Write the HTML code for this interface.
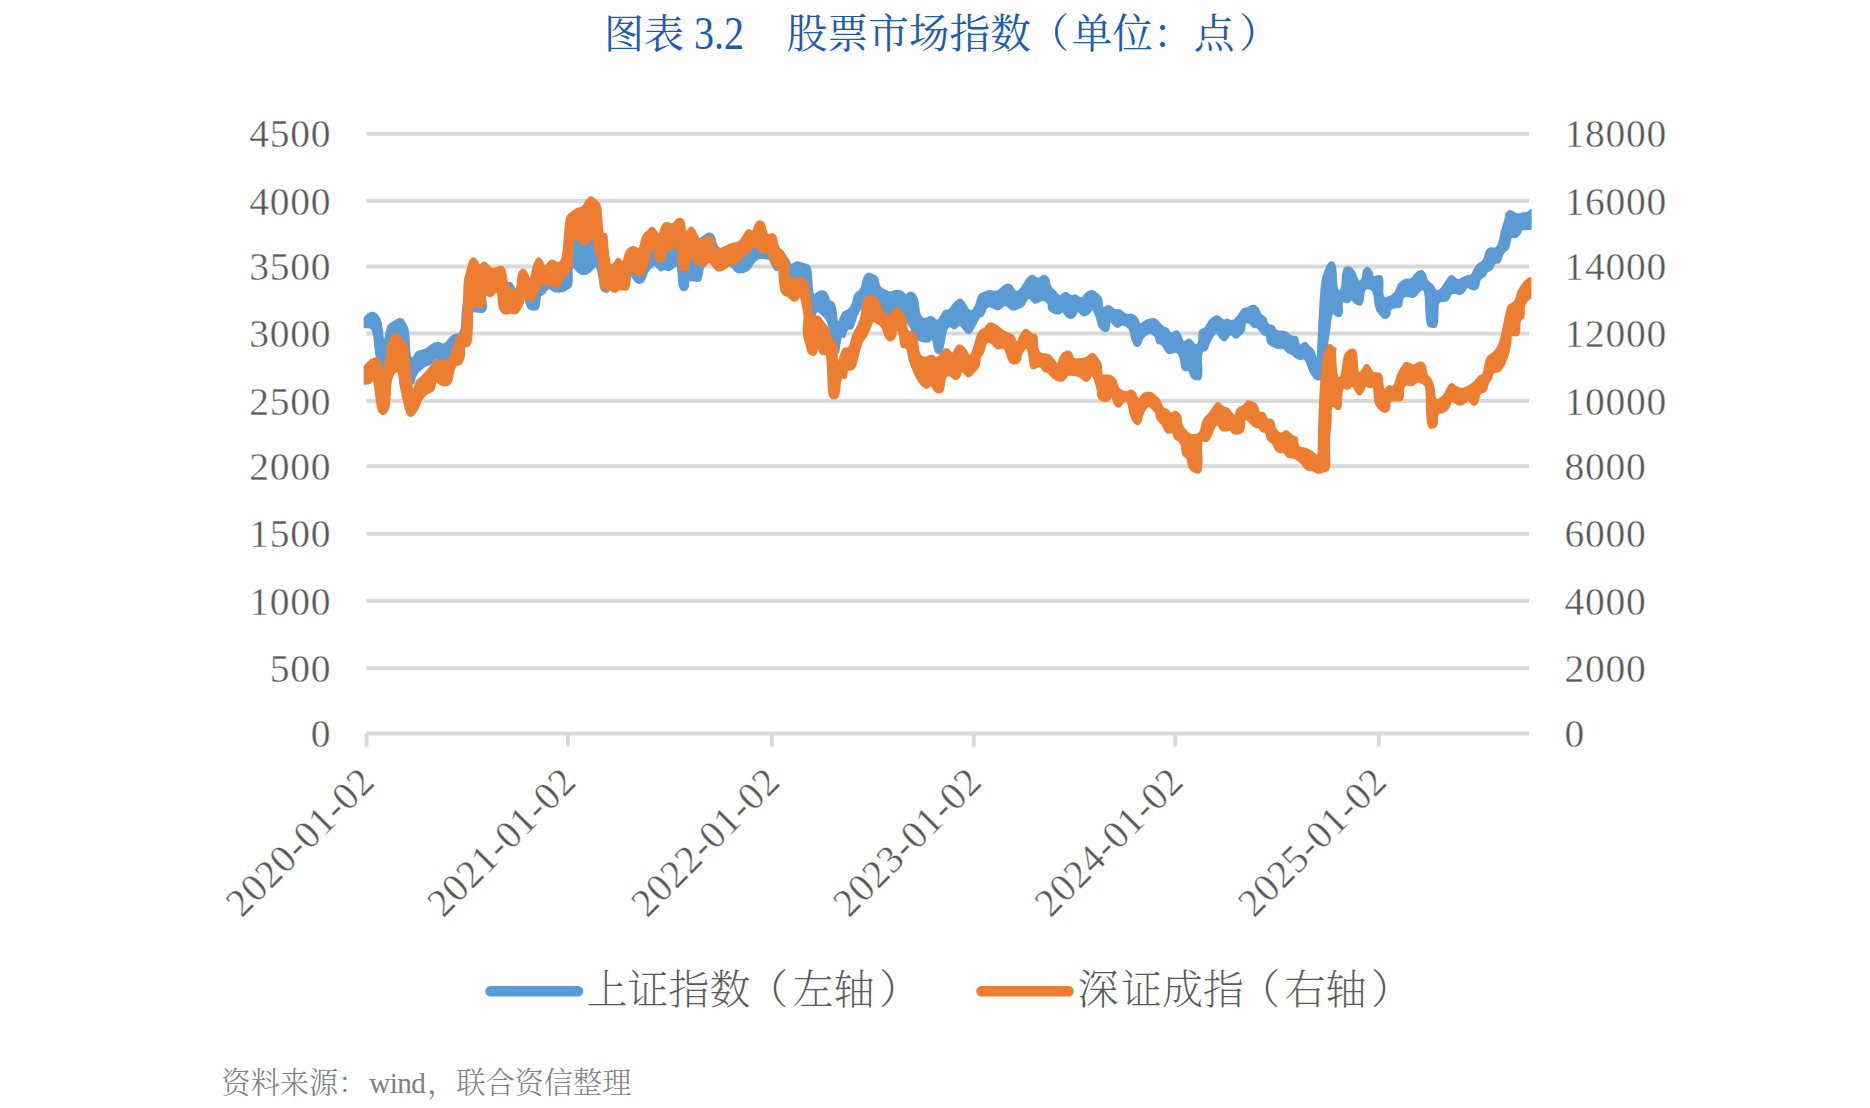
<!DOCTYPE html>
<html lang="zh-CN">
<head>
<meta charset="utf-8">
<title>图表 3.2 股票市场指数</title>
<style>
html,body{margin:0;padding:0;background:#fff;}
body{width:1870px;height:1108px;overflow:hidden;position:relative;font-family:"Liberation Serif","Noto Serif CJK SC",serif;}
.tt{position:absolute;top:7px;line-height:56px;color:#1b5cb3;white-space:pre;}
#t1{left:604px;font-size:40px;}
#t1 b{font-weight:normal;display:inline-block;transform:translateY(1.2px) scaleY(1.15);transform-origin:50% 76%;}
#t2{left:786.8px;font-size:40.7px;}
#t2 i{font-style:normal;display:inline-block;}
#src{position:absolute;left:221.5px;top:1063px;font-size:29.2px;line-height:40px;color:#808080;white-space:nowrap;font-weight:300;}
#src i{font-style:normal;margin-left:1.8px;margin-right:1.7px;letter-spacing:-0.55px;}
svg{position:absolute;left:0;top:0;}
svg text{font-family:"Liberation Serif","Noto Serif CJK SC",serif;}
.ax{font-size:39.5px;fill:#595959;letter-spacing:0.75px;stroke:#fff;stroke-width:0.4px;paint-order:fill stroke;}
.xl{letter-spacing:0.65px;}
.lg{font-size:41px;fill:#595959;font-weight:200;}
</style>
</head>
<body>
<div class="tt" id="t1">图表 <b>3.2</b></div>
<div class="tt" id="t2">股票市场指数<i style="margin-left:-2.5px;margin-right:2.5px">（</i>单位：点<i style="margin-left:4.5px">）</i></div>

<svg width="1870" height="1108" viewBox="0 0 1870 1108">
<g stroke="#d9d9d9" stroke-width="4" fill="none">
<line x1="366.4" y1="133.8" x2="1529" y2="133.8"/>
<line x1="366.4" y1="201.1" x2="1529" y2="201.1"/>
<line x1="366.4" y1="266.4" x2="1529" y2="266.4"/>
<line x1="366.4" y1="333.6" x2="1529" y2="333.6"/>
<line x1="366.4" y1="401.1" x2="1529" y2="401.1"/>
<line x1="366.4" y1="466.3" x2="1529" y2="466.3"/>
<line x1="366.4" y1="533.7" x2="1529" y2="533.7"/>
<line x1="366.4" y1="601.1" x2="1529" y2="601.1"/>
<line x1="366.4" y1="668.3" x2="1529" y2="668.3"/>
<line x1="366.4" y1="733.6" x2="1529" y2="733.6"/>
<line x1="366.5" y1="733.6" x2="366.5" y2="746.5"/>
<line x1="567.9" y1="733.6" x2="567.9" y2="746.5"/>
<line x1="771.9" y1="733.6" x2="771.9" y2="746.5"/>
<line x1="973.8" y1="733.6" x2="973.8" y2="746.5"/>
<line x1="1175.3" y1="733.6" x2="1175.3" y2="746.5"/>
<line x1="1378.8" y1="733.6" x2="1378.8" y2="746.5"/>
</g>
<g class="ax" text-anchor="end">
<text x="331.3" y="147.4">4500</text>
<text x="331.3" y="214.7">4000</text>
<text x="331.3" y="280.0">3500</text>
<text x="331.3" y="347.2">3000</text>
<text x="331.3" y="414.7">2500</text>
<text x="331.3" y="479.9">2000</text>
<text x="331.3" y="547.3">1500</text>
<text x="331.3" y="614.7">1000</text>
<text x="331.3" y="681.9">500</text>
<text x="331.3" y="747.2">0</text>
</g>
<g class="ax" text-anchor="start">
<text x="1564.6" y="147.4">18000</text>
<text x="1564.6" y="214.7">16000</text>
<text x="1564.6" y="280.0">14000</text>
<text x="1564.6" y="347.2">12000</text>
<text x="1564.6" y="414.7">10000</text>
<text x="1564.6" y="479.9">8000</text>
<text x="1564.6" y="547.3">6000</text>
<text x="1564.6" y="614.7">4000</text>
<text x="1564.6" y="681.9">2000</text>
<text x="1564.6" y="747.2">0</text>
</g>
<g class="ax xl" text-anchor="end">
<text transform="translate(376.7,783.6) rotate(-45)" x="0" y="0">2020-01-02</text>
<text transform="translate(578.1,783.6) rotate(-45)" x="0" y="0">2021-01-02</text>
<text transform="translate(782.1,783.6) rotate(-45)" x="0" y="0">2022-01-02</text>
<text transform="translate(984.0,783.6) rotate(-45)" x="0" y="0">2023-01-02</text>
<text transform="translate(1185.5,783.6) rotate(-45)" x="0" y="0">2024-01-02</text>
<text transform="translate(1389.0,783.6) rotate(-45)" x="0" y="0">2025-01-02</text>
</g>
<path fill="#5b9bd5" stroke="#5b9bd5" stroke-width="1.6" stroke-linejoin="round" d="M364.4,317.6 Q371.1,310.3 375.8,313.8 Q380.6,317.3 381.6,326.5 Q382.7,335.7 383.2,340.4 Q383.7,345.1 385.7,335.9 Q387.6,326.6 388.2,325.7 Q388.8,324.8 395.0,320.8 Q401.2,316.8 403.4,320.5 Q405.6,324.1 407.1,327.4 Q408.6,330.6 409.2,345.1 Q409.8,359.6 411.8,358.5 Q413.9,357.3 415.1,354.5 Q416.4,351.7 420.7,350.9 Q425.1,350.2 430.7,345.6 Q436.4,341.0 440.3,343.5 Q444.1,346.1 448.2,340.2 Q452.2,334.3 457.0,334.2 Q461.8,334.1 461.9,324.1 Q461.9,314.1 463.7,301.6 Q465.5,289.1 467.6,279.2 Q469.8,269.3 473.9,270.7 Q478.0,272.2 484.0,273.4 Q490.1,274.6 496.6,275.3 Q503.2,276.0 504.8,280.0 Q506.4,284.0 508.9,282.8 Q511.3,281.6 513.7,287.1 Q516.1,292.6 518.2,284.3 Q520.4,276.1 523.9,280.2 Q527.5,284.3 532.1,277.3 Q536.8,270.4 542.8,270.5 Q548.8,270.6 555.2,272.1 Q561.5,273.5 564.1,260.1 Q566.8,246.7 568.2,241.3 Q569.7,235.8 581.8,234.8 Q593.9,233.7 594.8,236.1 Q595.6,238.5 597.1,258.2 Q598.7,277.9 602.8,274.5 Q606.9,271.0 613.6,272.1 Q620.3,273.3 622.7,269.7 Q625.1,266.1 627.5,263.1 Q629.8,260.2 636.9,258.1 Q643.9,256.1 646.1,247.9 Q648.3,239.7 646.9,243.8 Q645.5,247.9 650.2,248.0 Q654.9,248.1 665.8,243.5 Q676.7,239.0 681.6,242.7 Q686.5,246.4 693.2,242.9 Q700.0,239.4 701.4,237.9 Q702.9,236.5 706.2,234.5 Q709.4,232.6 711.9,234.0 Q714.3,235.5 715.2,240.5 Q716.0,245.5 717.9,247.0 Q719.8,248.4 721.7,250.9 Q723.7,253.4 728.7,253.5 Q733.6,253.6 739.6,250.4 Q745.6,247.1 751.5,243.1 Q757.4,239.0 762.9,243.1 Q768.4,247.2 771.7,250.2 Q775.0,253.3 778.0,254.3 Q781.0,255.4 783.3,255.5 Q785.6,255.7 787.4,258.4 Q789.3,261.1 790.0,263.4 Q790.7,265.6 793.9,263.5 Q797.1,261.3 800.8,262.7 Q804.5,264.0 807.3,265.1 Q810.1,266.1 810.7,270.3 Q811.3,274.4 812.0,285.9 Q812.7,297.4 814.9,294.8 Q817.1,292.3 819.5,291.4 Q821.8,290.5 824.3,291.4 Q826.8,292.3 828.3,297.2 Q829.8,302.0 832.5,302.4 Q835.2,302.9 836.2,314.2 Q837.2,325.6 839.3,321.0 Q841.3,316.3 842.1,314.1 Q842.9,311.8 845.5,311.3 Q848.0,310.7 850.7,306.9 Q853.3,303.0 853.8,298.5 Q854.3,294.0 858.0,291.9 Q861.6,289.8 862.6,283.5 Q863.6,277.2 865.8,275.0 Q868.0,272.7 870.3,273.7 Q872.6,274.6 875.3,275.9 Q877.9,277.3 878.5,282.3 Q879.0,287.2 882.5,289.0 Q886.0,290.7 888.0,291.8 Q890.0,292.9 893.1,291.5 Q896.1,290.0 899.3,290.7 Q902.5,291.3 903.9,293.5 Q905.3,295.7 907.8,293.6 Q910.2,291.4 912.7,292.8 Q915.2,294.1 916.6,297.5 Q918.1,300.8 918.6,307.6 Q919.2,314.4 921.6,317.2 Q924.0,319.9 927.8,317.7 Q931.6,315.6 934.5,318.8 Q937.4,322.1 939.5,318.8 Q941.5,315.6 942.7,313.0 Q943.9,310.3 946.5,310.6 Q949.1,310.8 951.2,307.3 Q953.4,303.9 956.6,301.0 Q959.8,298.2 961.9,300.0 Q964.0,301.9 967.0,307.6 Q970.1,313.4 973.3,309.5 Q976.4,305.6 977.4,300.1 Q978.5,294.6 980.7,293.9 Q983.0,293.1 985.8,291.6 Q988.6,290.1 992.5,291.2 Q996.4,292.3 999.2,290.1 Q1002.0,287.9 1004.4,285.7 Q1006.9,283.4 1009.5,284.6 Q1012.2,285.8 1014.1,289.5 Q1016.0,293.1 1019.2,290.3 Q1022.4,287.4 1024.3,283.5 Q1026.1,279.6 1029.2,276.9 Q1032.3,274.2 1035.1,277.1 Q1038.0,279.9 1040.9,277.1 Q1043.8,274.4 1046.6,276.6 Q1049.5,278.7 1049.5,282.8 Q1049.5,286.9 1052.5,289.1 Q1055.6,291.3 1057.5,294.3 Q1059.3,297.3 1062.4,294.4 Q1065.4,291.6 1068.5,294.2 Q1071.5,296.8 1073.3,295.5 Q1075.2,294.1 1078.4,296.8 Q1081.6,299.4 1083.5,296.4 Q1085.3,293.3 1088.4,291.6 Q1091.4,289.9 1094.4,291.7 Q1097.3,293.4 1099.7,296.1 Q1102.1,298.8 1102.1,304.0 Q1102.1,309.3 1105.5,307.0 Q1108.9,304.6 1111.7,307.5 Q1114.5,310.4 1117.4,309.9 Q1120.3,309.4 1123.2,312.5 Q1126.1,315.6 1128.9,314.7 Q1131.7,313.7 1135.0,316.2 Q1138.2,318.7 1139.1,322.1 Q1139.9,325.6 1143.1,322.7 Q1146.3,319.8 1149.3,319.3 Q1152.4,318.8 1154.2,318.9 Q1156.0,319.1 1159.6,323.3 Q1163.1,327.5 1165.6,327.9 Q1168.0,328.3 1169.2,331.2 Q1170.4,334.2 1173.6,332.2 Q1176.8,330.3 1178.8,332.5 Q1180.7,334.8 1182.0,339.2 Q1183.3,343.7 1186.3,340.5 Q1189.2,337.4 1192.7,342.2 Q1196.3,347.0 1197.9,343.8 Q1199.5,340.7 1199.2,335.5 Q1198.9,330.3 1202.3,329.2 Q1205.8,328.1 1207.8,323.9 Q1209.7,319.7 1213.8,317.1 Q1217.8,314.6 1220.6,317.9 Q1223.3,321.3 1225.2,319.9 Q1227.0,318.5 1229.4,320.2 Q1231.8,321.9 1234.8,319.6 Q1237.7,317.4 1240.1,313.0 Q1242.4,308.5 1244.7,308.5 Q1247.1,308.5 1250.0,306.7 Q1252.9,304.9 1255.5,306.1 Q1258.0,307.4 1259.2,311.2 Q1260.4,315.0 1263.4,316.5 Q1266.3,318.0 1266.8,321.4 Q1267.3,324.8 1270.9,325.4 Q1274.4,326.0 1275.1,328.6 Q1275.7,331.1 1281.1,331.3 Q1286.5,331.5 1288.8,334.2 Q1291.1,336.9 1294.4,336.6 Q1297.7,336.3 1298.2,341.7 Q1298.7,347.1 1302.1,344.1 Q1305.5,341.1 1307.1,344.0 Q1308.8,347.0 1311.5,348.4 Q1314.1,349.9 1315.8,357.5 Q1317.4,365.2 1317.9,349.9 Q1318.5,334.7 1319.9,309.2 Q1321.2,283.8 1323.1,277.0 Q1325.0,270.2 1327.6,265.6 Q1330.1,261.1 1333.0,262.4 Q1335.9,263.7 1336.2,278.1 Q1336.5,292.4 1339.4,290.9 Q1342.3,289.5 1342.5,278.9 Q1342.7,268.4 1346.1,267.2 Q1349.4,266.0 1351.8,268.6 Q1354.3,271.2 1356.5,277.0 Q1358.7,282.8 1360.8,280.9 Q1362.9,279.0 1363.1,274.6 Q1363.2,270.1 1365.3,268.3 Q1367.4,266.4 1370.0,269.3 Q1372.6,272.1 1372.5,274.7 Q1372.3,277.4 1375.8,276.4 Q1379.2,275.4 1381.3,276.2 Q1383.4,277.1 1382.6,288.1 Q1381.9,299.2 1386.7,297.7 Q1391.5,296.3 1393.9,293.8 Q1396.4,291.2 1397.1,287.9 Q1397.7,284.6 1401.3,281.7 Q1404.8,278.8 1408.2,279.3 Q1411.6,279.8 1413.0,277.1 Q1414.5,274.5 1417.6,272.1 Q1420.8,269.7 1423.1,271.6 Q1425.4,273.4 1426.1,277.4 Q1426.8,281.3 1430.3,283.5 Q1433.8,285.7 1434.9,288.9 Q1435.9,292.2 1438.7,290.7 Q1441.5,289.1 1444.0,284.9 Q1446.5,280.6 1448.9,277.4 Q1451.4,274.2 1454.5,277.5 Q1457.5,280.7 1459.4,279.6 Q1461.2,278.5 1464.8,276.9 Q1468.5,275.3 1470.0,275.7 Q1471.5,276.1 1474.0,270.4 Q1476.5,264.7 1480.1,263.1 Q1483.8,261.6 1484.9,256.3 Q1486.0,250.9 1488.3,249.1 Q1490.6,247.4 1493.3,248.2 Q1495.9,249.1 1497.9,245.6 Q1499.9,242.1 1500.4,237.1 Q1501.0,232.2 1503.5,224.9 Q1506.0,217.6 1505.6,215.8 Q1505.1,214.0 1507.7,211.8 Q1510.2,209.5 1513.1,212.1 Q1515.9,214.8 1519.2,213.9 Q1522.5,213.0 1525.0,213.1 Q1527.6,213.1 1529.2,211.3 L1530.9,209.5 L1530.9,229.1 Q1521.1,229.3 1521.1,230.9 Q1521.0,232.5 1518.6,235.4 Q1516.1,238.3 1513.2,237.1 Q1510.4,235.9 1509.7,242.7 Q1509.0,249.4 1506.0,250.7 Q1503.0,251.9 1501.4,257.8 Q1499.8,263.6 1497.3,262.8 Q1494.8,262.1 1493.6,265.8 Q1492.5,269.5 1489.3,270.7 Q1486.2,271.8 1486.0,273.9 Q1485.8,276.0 1482.5,277.4 Q1479.2,278.8 1479.0,283.4 Q1478.7,288.0 1475.9,289.3 Q1473.1,290.6 1469.9,288.3 Q1466.7,286.0 1466.0,288.6 Q1465.3,291.2 1462.7,293.0 Q1460.2,294.7 1458.5,294.1 Q1456.9,293.5 1454.1,292.9 Q1451.2,292.3 1449.6,296.6 Q1448.0,300.9 1445.3,301.0 Q1442.7,301.0 1440.1,301.4 Q1437.6,301.9 1437.7,314.4 Q1437.7,326.9 1434.8,327.1 Q1431.9,327.2 1429.1,326.5 Q1426.3,325.8 1426.0,307.2 Q1425.6,288.7 1422.7,289.5 Q1419.8,290.2 1417.3,294.0 Q1414.8,297.7 1412.5,297.2 Q1410.2,296.7 1406.5,296.2 Q1402.7,295.7 1402.1,301.7 Q1401.5,307.8 1398.8,307.4 Q1396.1,307.0 1392.7,308.3 Q1389.2,309.6 1389.9,312.4 Q1390.5,315.2 1387.5,317.3 Q1384.4,319.4 1381.9,316.6 Q1379.4,313.8 1377.4,310.7 Q1375.4,307.5 1374.6,299.0 Q1373.7,290.4 1370.8,289.2 Q1367.9,288.0 1365.9,288.7 Q1364.0,289.3 1363.4,296.7 Q1362.8,304.0 1360.8,304.7 Q1358.8,305.4 1356.3,303.9 Q1353.8,302.4 1352.9,300.6 Q1352.0,298.8 1349.8,301.1 Q1347.5,303.3 1344.4,301.7 Q1341.2,300.0 1342.1,307.7 Q1342.9,315.4 1340.0,316.2 Q1337.1,317.0 1334.5,314.2 Q1331.9,311.4 1331.1,317.7 Q1330.2,324.1 1328.4,336.8 Q1326.5,349.6 1325.5,356.8 Q1324.5,364.1 1322.9,372.0 Q1321.3,379.9 1319.1,379.8 Q1316.9,379.7 1315.5,378.8 Q1314.2,378.0 1311.5,373.7 Q1308.9,369.5 1307.0,363.6 Q1305.1,357.7 1303.1,358.8 Q1301.2,359.9 1298.7,359.1 Q1296.2,358.3 1293.7,355.8 Q1291.3,353.2 1289.3,353.1 Q1287.4,352.9 1285.4,350.1 Q1283.5,347.4 1281.0,348.0 Q1278.5,348.6 1276.2,347.7 Q1274.0,346.8 1270.6,345.0 Q1267.3,343.1 1267.1,339.2 Q1267.0,335.2 1264.9,335.0 Q1262.7,334.8 1259.5,330.3 Q1256.4,325.9 1255.1,327.1 Q1253.8,328.3 1251.7,325.5 Q1249.7,322.7 1247.4,322.4 Q1245.1,322.1 1244.7,326.7 Q1244.3,331.3 1242.7,332.8 Q1241.2,334.3 1238.1,336.8 Q1235.0,339.2 1232.7,335.9 Q1230.4,332.6 1228.0,337.1 Q1225.6,341.6 1223.0,340.3 Q1220.4,339.0 1218.9,336.0 Q1217.5,332.9 1216.0,333.2 Q1214.6,333.4 1211.8,338.1 Q1209.0,342.7 1207.9,346.7 Q1206.7,350.7 1203.6,351.0 Q1200.4,351.2 1201.4,365.0 Q1202.4,378.8 1199.4,379.4 Q1196.5,379.9 1194.0,378.9 Q1191.4,378.0 1190.3,373.7 Q1189.1,369.4 1185.8,370.4 Q1182.4,371.5 1181.2,363.0 Q1179.9,354.5 1177.9,353.1 Q1175.8,351.7 1173.3,352.4 Q1170.7,353.2 1168.9,353.3 Q1167.0,353.5 1164.6,348.6 Q1162.1,343.8 1159.4,343.7 Q1156.7,343.5 1156.1,339.6 Q1155.4,335.6 1152.4,333.9 Q1149.3,332.2 1145.7,335.2 Q1142.0,338.2 1141.1,342.0 Q1140.2,345.7 1137.7,346.3 Q1135.3,346.8 1133.4,342.7 Q1131.5,338.5 1131.0,333.9 Q1130.5,329.3 1126.6,326.4 Q1122.7,323.5 1120.7,325.4 Q1118.7,327.4 1117.2,327.2 Q1115.6,327.0 1112.5,323.3 Q1109.4,319.6 1109.4,324.8 Q1109.3,330.1 1106.9,331.1 Q1104.5,332.1 1101.6,329.6 Q1098.8,327.1 1098.2,323.8 Q1097.7,320.5 1095.1,313.8 Q1092.5,307.2 1091.4,310.0 Q1090.3,312.8 1087.9,314.3 Q1085.6,315.8 1083.4,315.5 Q1081.2,315.3 1079.3,312.4 Q1077.4,309.5 1076.7,312.6 Q1075.9,315.7 1073.5,317.2 Q1071.1,318.7 1069.0,318.1 Q1066.9,317.5 1064.6,313.9 Q1062.4,310.2 1060.8,312.6 Q1059.2,315.0 1053.6,312.8 Q1048.0,310.6 1048.5,307.0 Q1049.0,303.4 1045.9,301.3 Q1042.9,299.2 1040.4,300.9 Q1037.8,302.7 1035.8,303.0 Q1033.8,303.3 1031.1,299.7 Q1028.4,296.2 1026.6,299.9 Q1024.8,303.6 1023.9,305.1 Q1023.0,306.6 1018.6,308.3 Q1014.2,310.1 1012.5,309.7 Q1010.8,309.4 1008.0,306.8 Q1005.2,304.2 1003.6,305.8 Q1002.0,307.4 1000.0,309.0 Q998.1,310.5 993.9,308.2 Q989.8,305.8 987.8,306.9 Q985.8,308.1 984.6,312.2 Q983.3,316.3 981.2,316.4 Q979.0,316.5 975.9,323.4 Q972.7,330.2 970.7,332.3 Q968.7,334.4 966.5,332.3 Q964.2,330.1 961.9,326.8 Q959.5,323.5 957.2,326.8 Q954.9,330.1 952.4,327.7 Q950.0,325.3 948.2,327.1 Q946.4,328.8 945.3,334.6 Q944.3,340.3 943.2,346.3 Q942.1,352.2 940.3,353.0 Q938.4,353.8 936.5,352.6 Q934.6,351.3 933.7,344.0 Q932.7,336.7 931.0,339.5 Q929.2,342.4 926.7,342.0 Q924.3,341.6 921.9,341.2 Q919.6,340.8 917.4,338.8 Q915.3,336.9 911.8,330.2 Q908.3,323.6 907.8,323.2 Q907.3,322.8 902.2,317.7 Q897.0,312.6 893.1,315.5 Q889.2,318.4 884.9,315.5 Q880.6,312.7 877.5,307.9 Q874.5,303.2 868.9,306.5 Q863.3,309.9 862.4,308.6 Q861.4,307.2 858.7,311.9 Q855.9,316.5 854.5,322.8 Q853.2,329.2 850.1,328.8 Q847.0,328.5 845.8,333.6 Q844.7,338.6 842.8,336.7 Q840.9,334.7 839.4,346.2 Q837.9,357.6 837.0,349.4 Q836.1,341.2 833.8,339.2 Q831.5,337.3 829.7,328.9 Q827.8,320.5 825.6,318.1 Q823.3,315.8 820.0,312.6 Q816.7,309.5 815.3,314.2 Q813.8,318.9 811.7,312.7 Q809.7,306.5 809.4,296.7 Q809.1,286.9 798.9,286.2 Q788.8,285.5 784.2,280.8 Q779.7,276.2 779.5,271.9 Q779.4,267.7 777.8,269.7 Q776.2,271.7 774.3,268.6 Q772.4,265.5 771.3,263.1 Q770.2,260.7 769.3,259.6 Q768.4,258.5 763.1,258.1 Q757.9,257.8 755.1,260.9 Q752.3,264.0 750.9,266.8 Q749.5,269.5 746.5,271.0 Q743.4,272.5 739.7,272.6 Q735.9,272.6 733.3,268.5 Q730.7,264.3 726.8,265.7 Q722.9,267.0 716.0,263.1 Q709.1,259.2 707.3,262.5 Q705.5,265.8 704.4,266.4 Q703.3,267.0 702.4,271.9 Q701.6,276.9 700.8,279.4 Q700.0,281.9 693.8,280.7 Q687.5,279.6 688.3,283.8 Q689.0,288.1 686.1,289.7 Q683.2,291.3 681.1,289.1 Q678.9,286.8 678.4,275.2 Q677.9,263.6 676.1,265.1 Q674.3,266.7 671.4,269.0 Q668.5,271.3 666.6,269.9 Q664.8,268.5 662.4,270.1 Q660.0,271.7 657.5,268.1 Q655.0,264.6 653.5,265.5 Q651.9,266.5 649.6,269.0 Q647.2,271.6 645.7,276.4 Q644.1,281.2 641.7,282.6 Q639.2,284.0 636.8,282.4 Q634.4,280.8 632.5,277.2 Q630.6,273.6 630.2,278.1 Q629.9,282.5 624.6,283.0 Q619.3,283.5 613.9,285.4 Q608.4,287.4 608.8,289.3 Q609.1,291.2 607.9,291.8 Q606.8,292.5 603.9,291.5 Q601.1,290.6 600.5,286.1 Q600.0,281.6 599.1,276.7 Q598.2,271.8 597.1,268.2 Q596.1,264.5 593.8,267.9 Q591.4,271.3 587.7,273.4 Q584.0,275.5 580.4,273.5 Q576.8,271.4 574.2,267.5 Q571.6,263.6 572.0,275.0 Q572.5,286.5 570.0,287.4 Q567.5,288.3 565.6,290.1 Q563.6,291.9 558.9,292.0 Q554.2,292.2 551.5,289.6 Q548.8,287.0 546.4,290.5 Q544.1,294.0 542.2,294.4 Q540.3,294.7 539.9,298.7 Q539.5,302.7 538.9,306.4 Q538.3,310.0 533.1,309.9 Q528.0,309.8 526.7,304.5 Q525.4,299.2 524.2,298.3 Q523.1,297.5 521.8,303.1 Q520.5,308.6 513.1,308.9 Q505.7,309.2 502.1,301.9 Q498.6,294.5 498.9,291.5 Q499.2,288.5 491.5,290.5 Q483.8,292.5 485.2,297.5 Q486.5,302.6 486.1,307.8 Q485.7,313.0 479.7,312.0 Q473.7,311.1 472.5,311.5 Q471.3,311.9 469.4,318.5 Q467.4,325.2 466.3,332.0 Q465.1,338.8 460.0,347.6 Q454.8,356.5 449.3,362.2 Q443.7,368.0 440.1,362.1 Q436.6,356.1 433.9,360.3 Q431.2,364.5 429.3,364.6 Q427.4,364.7 424.5,366.5 Q421.7,368.3 418.7,371.4 Q415.6,374.4 414.1,381.5 Q412.5,388.5 410.8,374.5 Q409.0,360.5 408.0,355.4 Q407.0,350.4 404.6,347.8 Q402.2,345.3 398.8,342.1 Q395.5,338.8 392.0,342.0 Q388.5,345.2 387.1,352.9 Q385.7,360.5 384.4,367.6 Q383.1,374.8 379.6,366.7 Q376.0,358.6 375.2,348.3 Q374.5,338.0 373.3,332.7 Q372.1,327.4 368.2,327.5 L364.4,327.5 Z"/>
<path fill="#ed7d31" stroke="#ed7d31" stroke-width="1.6" stroke-linejoin="round" d="M364.4,366.3 Q367.3,362.4 371.3,359.6 Q375.3,356.8 378.0,358.9 Q380.7,361.0 381.5,367.6 Q382.3,374.2 384.1,367.9 Q385.9,361.5 387.2,350.7 Q388.5,339.9 392.0,336.1 Q395.5,332.3 398.8,335.4 Q402.2,338.6 404.6,342.2 Q407.0,345.8 408.0,351.4 Q409.0,356.9 410.8,376.4 Q412.5,395.9 414.2,388.3 Q415.9,380.7 418.1,379.6 Q420.3,378.5 424.2,374.0 Q428.2,369.6 430.4,366.9 Q432.7,364.3 433.9,362.0 Q435.0,359.8 440.0,360.1 Q444.9,360.4 446.8,360.8 Q448.7,361.3 451.1,353.5 Q453.6,345.8 456.0,340.2 Q458.4,334.5 460.2,333.8 Q462.0,333.0 462.8,324.4 Q463.7,315.7 463.9,298.1 Q464.1,280.4 465.4,276.6 Q466.7,272.7 468.1,266.6 Q469.5,260.5 471.7,258.8 Q473.9,257.1 475.6,259.3 Q477.4,261.5 478.7,264.0 Q480.0,266.4 482.1,263.6 Q484.3,260.7 486.7,263.7 Q489.1,266.7 491.3,268.0 Q493.5,269.3 496.6,267.9 Q499.8,266.4 502.2,266.7 Q504.6,267.1 505.7,273.6 Q506.7,280.0 507.4,283.1 Q508.0,286.1 512.5,289.5 Q517.1,292.9 517.4,283.5 Q517.8,274.1 520.4,270.8 Q523.1,267.5 525.6,270.9 Q528.2,274.3 529.0,278.3 Q529.8,282.3 531.7,273.8 Q533.5,265.3 535.9,260.7 Q538.2,256.0 540.9,259.5 Q543.5,263.0 544.1,265.5 Q544.7,268.1 548.0,263.3 Q551.3,258.6 554.2,261.1 Q557.2,263.7 559.7,262.4 Q562.1,261.0 563.1,252.6 Q564.1,244.2 565.1,230.2 Q566.1,216.2 568.6,214.7 Q571.0,213.1 574.0,210.7 Q577.0,208.3 580.2,207.7 Q583.3,207.1 584.7,203.7 Q586.1,200.2 588.6,198.1 Q591.1,195.9 593.5,198.4 Q595.8,200.8 598.0,202.2 Q600.3,203.6 601.0,211.5 Q601.8,219.5 602.1,226.9 Q602.3,234.3 604.6,233.6 Q606.9,232.8 607.1,239.1 Q607.3,245.4 608.5,255.3 Q609.8,265.3 611.5,265.1 Q613.2,264.9 615.6,260.8 Q618.0,256.8 620.6,260.2 Q623.2,263.6 624.1,258.8 Q624.9,254.1 626.6,251.1 Q628.3,248.2 631.5,247.1 Q634.7,246.0 637.1,248.6 Q639.4,251.3 640.9,243.4 Q642.5,235.5 645.0,233.3 Q647.5,231.1 649.8,228.7 Q652.1,226.2 654.4,229.1 Q656.7,231.9 658.0,233.9 Q659.4,235.9 660.7,230.3 Q662.0,224.7 664.4,223.5 Q666.8,222.2 670.0,223.7 Q673.3,225.1 674.7,222.2 Q676.2,219.4 678.4,218.8 Q680.5,218.3 682.5,219.6 Q684.4,220.9 684.8,227.7 Q685.2,234.4 687.9,230.2 Q690.6,226.0 692.7,228.1 Q694.7,230.2 696.2,233.5 Q697.6,236.9 698.6,238.2 Q699.7,239.6 701.4,239.8 Q703.2,240.0 705.6,237.4 Q708.0,234.7 710.6,236.3 Q713.2,237.8 714.0,242.9 Q714.9,248.0 716.6,248.9 Q718.3,249.9 721.2,248.5 Q724.1,247.1 728.6,245.0 Q733.1,242.8 735.9,243.0 Q738.7,243.1 741.0,239.8 Q743.2,236.6 745.6,232.4 Q747.9,228.3 750.4,230.7 Q752.9,233.0 754.4,227.7 Q756.0,222.4 758.1,221.4 Q760.2,220.5 762.4,222.0 Q764.7,223.4 765.7,229.7 Q766.8,235.9 769.9,234.6 Q772.9,233.3 774.6,234.9 Q776.3,236.5 777.2,242.3 Q778.0,248.0 780.7,249.5 Q783.4,251.0 785.1,255.0 Q786.9,259.0 787.7,261.8 Q788.6,264.6 788.7,272.0 Q788.9,279.4 791.9,279.1 Q794.9,278.8 797.8,277.7 Q800.6,276.6 803.9,279.0 Q807.2,281.3 808.0,286.9 Q808.8,292.4 810.2,299.1 Q811.5,305.7 812.0,311.9 Q812.4,318.1 815.5,316.5 Q818.6,314.8 820.8,318.6 Q823.0,322.4 825.4,324.7 Q827.9,326.9 829.6,333.1 Q831.3,339.2 834.2,340.8 Q837.0,342.3 837.0,355.0 Q836.9,367.6 839.1,360.5 Q841.3,353.4 842.4,350.6 Q843.4,347.8 846.5,348.3 Q849.6,348.7 851.2,341.7 Q852.7,334.6 854.4,332.0 Q856.0,329.5 858.7,323.7 Q861.3,317.9 862.5,308.1 Q863.7,298.3 865.7,297.2 Q867.7,296.2 870.9,296.0 Q874.0,295.8 876.5,298.0 Q879.0,300.1 879.6,303.8 Q880.2,307.5 883.7,311.5 Q887.3,315.5 888.8,315.8 Q890.3,316.1 891.7,312.7 Q893.0,309.3 895.1,308.3 Q897.3,307.3 899.6,309.5 Q902.0,311.7 904.4,315.9 Q906.8,320.1 906.6,325.6 Q906.5,331.2 909.7,331.4 Q912.9,331.6 914.9,334.1 Q917.0,336.5 917.8,345.1 Q918.5,353.7 921.3,356.1 Q924.1,358.5 927.8,356.6 Q931.6,354.6 934.4,356.8 Q937.1,359.1 940.2,354.6 Q943.3,350.1 945.5,349.1 Q947.7,348.0 950.2,351.7 Q952.7,355.3 954.3,351.0 Q955.9,346.7 957.9,345.4 Q959.8,344.1 962.9,346.8 Q966.1,349.6 968.1,354.0 Q970.1,358.4 972.3,352.2 Q974.5,345.9 976.5,338.5 Q978.5,331.1 981.6,330.0 Q984.8,328.9 986.9,325.4 Q989.0,321.9 993.5,323.9 Q998.1,326.0 1000.5,328.8 Q1002.9,331.6 1007.0,332.7 Q1011.0,333.8 1013.1,335.9 Q1015.2,338.0 1015.9,341.7 Q1016.5,345.5 1019.3,338.3 Q1022.2,331.2 1024.7,329.9 Q1027.1,328.6 1029.7,331.9 Q1032.2,335.1 1034.7,334.3 Q1037.1,333.5 1037.3,343.7 Q1037.6,354.0 1042.4,353.9 Q1047.2,353.9 1049.8,355.5 Q1052.4,357.2 1055.1,361.7 Q1057.8,366.3 1059.2,360.5 Q1060.6,354.8 1063.9,352.8 Q1067.1,350.7 1069.3,351.4 Q1071.5,352.1 1072.4,355.9 Q1073.2,359.7 1077.5,359.2 Q1081.7,358.6 1084.4,358.2 Q1087.1,357.8 1089.7,355.1 Q1092.3,352.3 1094.3,354.6 Q1096.3,356.9 1098.9,360.3 Q1101.5,363.7 1101.4,370.0 Q1101.3,376.3 1105.0,375.4 Q1108.8,374.5 1112.3,376.7 Q1115.8,378.9 1116.9,384.0 Q1118.1,389.1 1122.3,390.9 Q1126.6,392.7 1128.8,391.2 Q1131.1,389.7 1133.4,391.1 Q1135.8,392.6 1136.9,396.9 Q1138.0,401.1 1140.5,397.2 Q1143.0,393.2 1147.1,392.6 Q1151.2,392.0 1152.9,393.7 Q1154.6,395.5 1157.3,397.7 Q1160.0,399.9 1161.2,404.2 Q1162.5,408.6 1165.3,409.1 Q1168.1,409.6 1169.3,412.0 Q1170.6,414.3 1173.1,412.4 Q1175.6,410.5 1178.4,413.2 Q1181.2,416.0 1181.2,420.7 Q1181.1,425.4 1185.1,429.9 Q1189.1,434.4 1191.0,434.8 Q1192.9,435.3 1196.7,434.5 Q1200.6,433.7 1201.3,428.4 Q1202.0,423.2 1203.6,420.1 Q1205.2,417.0 1207.8,414.9 Q1210.4,412.8 1212.3,409.2 Q1214.3,405.7 1216.2,403.6 Q1218.2,401.6 1220.6,404.6 Q1223.1,407.6 1225.6,407.7 Q1228.0,407.8 1230.0,410.6 Q1232.0,413.5 1233.7,415.4 Q1235.4,417.2 1236.1,412.9 Q1236.7,408.5 1240.7,407.0 Q1244.7,405.5 1245.9,402.8 Q1247.0,400.1 1252.1,401.9 Q1257.1,403.8 1257.9,408.3 Q1258.7,412.9 1261.6,412.6 Q1264.5,412.2 1265.6,416.1 Q1266.7,420.0 1270.2,419.6 Q1273.7,419.2 1274.2,424.1 Q1274.6,429.1 1277.9,431.9 Q1281.1,434.7 1283.8,432.0 Q1286.5,429.4 1289.4,433.0 Q1292.2,436.6 1295.0,436.8 Q1297.7,436.9 1297.6,442.1 Q1297.5,447.4 1301.8,447.9 Q1306.2,448.3 1309.2,449.9 Q1312.2,451.5 1315.5,454.5 Q1318.8,457.6 1318.5,450.5 Q1318.3,443.3 1319.6,409.2 Q1320.9,375.1 1322.9,362.0 Q1324.9,348.8 1327.8,346.0 Q1330.8,343.2 1333.6,347.4 Q1336.5,351.7 1335.7,348.5 Q1334.9,345.2 1335.6,361.0 Q1336.2,376.7 1338.8,377.9 Q1341.4,379.1 1342.6,367.8 Q1343.8,356.5 1345.6,353.8 Q1347.5,351.0 1349.6,349.9 Q1351.8,348.8 1354.3,349.5 Q1356.8,350.2 1357.0,361.7 Q1357.2,373.1 1359.3,372.8 Q1361.3,372.5 1363.1,368.7 Q1364.9,364.9 1366.7,364.9 Q1368.5,364.9 1370.3,368.7 Q1372.0,372.5 1374.1,372.8 Q1376.2,373.1 1379.2,373.4 Q1382.1,373.7 1382.6,383.0 Q1383.1,392.2 1385.9,388.5 Q1388.8,384.7 1391.4,386.4 Q1394.0,388.1 1395.7,381.6 Q1397.3,375.1 1399.1,372.0 Q1400.9,368.8 1403.1,365.4 Q1405.3,361.9 1407.5,362.8 Q1409.7,363.6 1411.7,364.8 Q1413.7,366.0 1416.8,363.7 Q1419.8,361.3 1422.6,362.7 Q1425.3,364.0 1426.0,369.9 Q1426.6,375.7 1428.6,376.7 Q1430.5,377.7 1432.6,383.3 Q1434.7,388.8 1434.7,394.9 Q1434.8,401.0 1438.3,399.5 Q1441.8,398.0 1443.9,395.0 Q1445.9,391.9 1447.2,388.8 Q1448.5,385.6 1450.3,384.3 Q1452.0,382.9 1454.6,385.5 Q1457.2,388.1 1460.1,388.4 Q1463.1,388.6 1466.0,387.5 Q1468.8,386.3 1471.8,384.2 Q1474.7,382.1 1477.3,378.6 Q1479.9,375.0 1481.6,375.3 Q1483.3,375.5 1484.9,366.1 Q1486.4,356.7 1490.0,355.1 Q1493.5,353.6 1496.5,349.2 Q1499.5,344.9 1501.1,337.7 Q1502.7,330.4 1504.7,320.6 Q1506.6,310.7 1507.6,307.8 Q1508.6,304.9 1512.2,303.3 Q1515.7,301.7 1516.6,296.8 Q1517.6,291.9 1520.0,288.3 Q1522.3,284.8 1524.5,282.1 Q1526.6,279.5 1528.6,278.6 L1530.6,277.8 L1530.6,298.0 Q1523.4,302.2 1523.9,310.5 Q1524.5,318.8 1522.0,318.9 Q1519.4,318.9 1519.6,327.7 Q1519.8,336.6 1515.4,335.5 Q1511.1,334.5 1511.0,337.5 Q1511.0,340.5 1509.9,346.7 Q1508.9,352.9 1506.6,359.0 Q1504.3,365.1 1501.8,368.4 Q1499.4,371.7 1496.1,372.0 Q1492.7,372.3 1492.1,375.8 Q1491.5,379.4 1489.9,380.8 Q1488.2,382.3 1487.1,387.4 Q1485.9,392.5 1482.9,392.2 Q1479.9,391.8 1478.9,397.4 Q1477.8,403.0 1475.5,404.5 Q1473.2,406.1 1470.9,402.7 Q1468.5,399.4 1467.5,400.6 Q1466.4,401.8 1463.6,403.7 Q1460.8,405.6 1458.3,404.6 Q1455.8,403.7 1453.5,401.7 Q1451.2,399.7 1450.1,404.0 Q1449.0,408.3 1446.4,410.4 Q1443.8,412.6 1440.3,412.7 Q1436.8,412.8 1437.3,418.7 Q1437.8,424.6 1435.3,426.6 Q1432.8,428.7 1429.9,427.8 Q1427.0,426.9 1426.8,407.1 Q1426.5,387.3 1425.2,385.6 Q1423.8,383.9 1420.6,382.3 Q1417.4,380.6 1414.9,383.5 Q1412.4,386.3 1410.4,385.2 Q1408.3,384.2 1405.8,385.0 Q1403.2,385.8 1403.2,393.5 Q1403.2,401.1 1400.0,400.7 Q1396.8,400.3 1392.9,400.7 Q1389.0,401.1 1389.6,405.0 Q1390.2,408.9 1387.7,411.0 Q1385.2,413.0 1382.2,411.4 Q1379.1,409.8 1376.8,405.7 Q1374.5,401.5 1374.2,393.3 Q1374.0,385.0 1372.0,386.7 Q1370.0,388.4 1367.6,386.7 Q1365.2,385.0 1364.5,387.7 Q1363.8,390.4 1361.8,393.1 Q1359.8,395.8 1358.0,394.1 Q1356.2,392.4 1354.4,388.4 Q1352.7,384.3 1350.6,387.3 Q1348.6,390.3 1345.1,388.0 Q1341.6,385.7 1341.6,396.4 Q1341.5,407.1 1339.7,408.8 Q1337.9,410.5 1334.3,407.0 Q1330.7,403.4 1330.9,411.4 Q1331.1,419.3 1329.9,432.0 Q1328.6,444.6 1329.5,457.3 Q1330.4,470.0 1326.4,471.0 Q1322.4,472.0 1319.7,472.7 Q1317.0,473.3 1314.7,471.5 Q1312.4,469.8 1309.5,470.2 Q1306.7,470.6 1303.8,466.6 Q1300.9,462.5 1298.6,460.7 Q1296.3,458.8 1293.7,458.0 Q1291.2,457.2 1289.3,457.4 Q1287.5,457.6 1285.2,454.1 Q1283.0,450.6 1282.2,451.9 Q1281.5,453.3 1278.6,452.1 Q1275.7,450.9 1274.5,447.0 Q1273.3,443.1 1270.5,441.9 Q1267.6,440.7 1266.7,435.9 Q1265.9,431.2 1264.2,431.9 Q1262.6,432.6 1260.5,429.8 Q1258.4,426.9 1256.5,427.3 Q1254.6,427.8 1252.1,424.8 Q1249.7,421.9 1246.9,419.8 Q1244.0,417.7 1244.3,423.6 Q1244.6,429.4 1242.5,431.7 Q1240.4,433.9 1236.6,433.9 Q1232.9,433.9 1231.8,431.6 Q1230.7,429.3 1228.1,430.3 Q1225.5,431.4 1222.9,430.7 Q1220.4,430.1 1219.1,426.4 Q1217.7,422.8 1215.4,426.1 Q1213.1,429.4 1212.3,432.5 Q1211.5,435.6 1208.9,439.3 Q1206.3,442.9 1203.4,440.5 Q1200.4,438.2 1201.5,455.0 Q1202.5,471.9 1199.2,472.8 Q1195.9,473.7 1192.2,470.7 Q1188.6,467.7 1188.0,462.4 Q1187.4,457.1 1184.9,456.5 Q1182.5,455.9 1181.9,448.7 Q1181.3,441.6 1177.7,440.2 Q1174.1,438.8 1173.7,435.0 Q1173.2,431.2 1169.9,432.7 Q1166.6,434.2 1164.4,429.0 Q1162.2,423.8 1159.4,421.5 Q1156.5,419.2 1156.5,415.8 Q1156.6,412.4 1152.9,409.3 Q1149.2,406.2 1148.8,405.6 Q1148.5,404.9 1145.2,409.8 Q1141.8,414.7 1141.8,417.8 Q1141.8,420.9 1139.5,423.5 Q1137.1,426.0 1133.9,421.8 Q1130.7,417.6 1129.2,408.5 Q1127.7,399.3 1125.4,400.8 Q1123.1,402.3 1121.1,405.4 Q1119.1,408.5 1116.2,405.6 Q1113.3,402.7 1112.4,396.8 Q1111.5,390.8 1111.2,394.9 Q1110.9,399.0 1107.7,400.6 Q1104.4,402.1 1101.1,400.1 Q1097.8,398.1 1097.8,394.1 Q1097.9,390.1 1095.2,381.7 Q1092.5,373.2 1091.3,375.7 Q1090.2,378.3 1088.0,380.3 Q1085.8,382.3 1082.8,379.2 Q1079.8,376.0 1077.1,375.6 Q1074.4,375.2 1070.5,374.9 Q1066.7,374.6 1066.4,376.8 Q1066.1,379.1 1063.0,380.5 Q1059.9,381.9 1055.9,379.8 Q1051.9,377.6 1050.0,374.6 Q1048.2,371.6 1045.9,371.7 Q1043.6,371.7 1042.0,368.6 Q1040.4,365.4 1037.7,366.9 Q1035.0,368.3 1032.8,368.7 Q1030.6,369.1 1029.1,356.6 Q1027.7,344.1 1024.1,349.5 Q1020.4,354.9 1020.6,358.0 Q1020.7,361.2 1017.8,362.8 Q1014.8,364.4 1012.1,363.3 Q1009.4,362.3 1008.3,358.3 Q1007.1,354.3 1005.4,350.3 Q1003.7,346.4 1000.6,348.1 Q997.5,349.8 994.6,346.4 Q991.7,342.9 989.1,341.8 Q986.5,340.8 984.8,347.6 Q983.1,354.3 981.5,355.2 Q979.9,356.1 979.6,361.3 Q979.3,366.6 977.0,369.0 Q974.6,371.4 971.5,374.8 Q968.4,378.3 966.3,375.4 Q964.2,372.5 962.6,371.8 Q961.0,371.2 960.5,374.1 Q960.1,377.1 957.4,378.7 Q954.7,380.2 952.5,377.5 Q950.2,374.7 947.6,375.5 Q944.9,376.3 944.3,383.8 Q943.6,391.3 941.0,392.3 Q938.4,393.3 935.8,391.6 Q933.2,390.0 932.5,387.1 Q931.8,384.3 929.2,386.6 Q926.6,388.9 924.3,387.2 Q922.1,385.4 919.3,381.9 Q916.5,378.3 914.5,373.3 Q912.6,368.4 910.7,364.0 Q908.8,359.7 908.1,353.3 Q907.4,346.9 904.0,347.5 Q900.7,348.0 900.4,341.5 Q900.1,335.0 898.2,331.3 Q896.4,327.7 896.0,332.7 Q895.5,337.7 892.9,339.5 Q890.2,341.3 887.8,339.6 Q885.4,337.9 883.8,332.2 Q882.3,326.4 879.9,324.9 Q877.4,323.4 874.8,321.9 Q872.2,320.4 871.5,323.7 Q870.8,327.0 868.2,332.2 Q865.6,337.5 863.3,340.3 Q861.0,343.1 858.5,353.9 Q856.0,364.8 854.6,367.3 Q853.2,369.8 849.9,369.7 Q846.7,369.6 846.6,374.6 Q846.4,379.6 843.4,377.9 Q840.4,376.1 839.8,386.4 Q839.2,396.6 836.6,397.9 Q834.0,399.1 831.3,397.9 Q828.7,396.7 828.4,386.2 Q828.2,375.7 827.6,364.9 Q827.0,354.0 826.0,354.3 Q825.1,354.6 822.2,354.3 Q819.3,353.9 818.7,346.5 Q818.2,339.1 817.5,346.4 Q816.8,353.7 814.5,354.7 Q812.3,355.7 810.0,354.1 Q807.7,352.6 807.3,349.3 Q806.8,345.9 804.7,339.2 Q802.7,332.5 803.8,324.6 Q804.8,316.7 803.7,311.2 Q802.5,305.7 801.4,299.8 Q800.2,293.9 798.9,297.2 Q797.5,300.5 795.0,300.8 Q792.4,301.1 790.3,298.4 Q788.1,295.7 784.8,295.1 Q781.4,294.4 780.4,286.9 Q779.4,279.3 779.3,273.7 Q779.1,268.0 776.3,267.1 Q773.5,266.3 771.7,263.1 Q770.0,260.0 769.3,256.1 Q768.6,252.2 765.1,253.0 Q761.7,253.8 759.5,250.6 Q757.3,247.5 755.2,246.8 Q753.1,246.1 751.4,248.8 Q749.7,251.6 745.7,254.5 Q741.8,257.3 738.9,260.9 Q736.1,264.4 733.8,263.8 Q731.5,263.3 729.3,265.4 Q727.1,267.6 723.9,269.2 Q720.7,270.9 718.4,270.6 Q716.1,270.3 714.4,268.0 Q712.7,265.7 711.1,263.3 Q709.4,260.8 707.0,263.8 Q704.7,266.7 701.7,265.6 Q698.7,264.6 695.5,263.3 Q692.3,262.0 691.0,256.7 Q689.7,251.5 689.1,260.9 Q688.6,270.4 686.0,270.6 Q683.4,270.8 680.8,269.4 Q678.1,268.0 677.9,257.3 Q677.7,246.7 676.8,246.5 Q675.9,246.3 672.3,248.7 Q668.7,251.2 667.5,250.7 Q666.4,250.1 665.3,255.6 Q664.3,261.1 662.2,261.5 Q660.1,261.9 657.4,261.1 Q654.7,260.3 654.3,253.0 Q653.9,245.7 652.0,248.1 Q650.1,250.5 650.1,252.8 Q650.1,255.0 648.9,260.0 Q647.7,265.0 645.4,270.5 Q643.1,275.9 639.2,275.6 Q635.3,275.2 632.9,271.9 Q630.6,268.6 629.9,279.4 Q629.1,290.1 626.5,289.9 Q623.9,289.8 621.6,289.5 Q619.3,289.2 616.9,291.1 Q614.6,293.1 612.1,291.0 Q609.6,289.0 608.2,290.0 Q606.7,291.0 603.9,289.3 Q601.1,287.7 600.5,284.8 Q600.0,281.8 599.2,268.3 Q598.4,254.8 596.6,254.3 Q594.8,253.7 594.6,247.0 Q594.4,240.2 592.7,239.1 Q590.9,238.0 590.0,239.7 Q589.2,241.4 586.7,244.0 Q584.2,246.6 581.1,243.3 Q577.9,240.0 575.9,238.5 Q573.8,237.0 572.9,244.5 Q572.1,252.0 572.2,260.2 Q572.3,268.4 567.8,272.7 Q563.3,277.0 562.0,280.6 Q560.7,284.1 559.0,286.7 Q557.2,289.2 554.9,286.7 Q552.6,284.3 549.5,284.9 Q546.4,285.5 543.9,284.3 Q541.4,283.1 540.6,284.9 Q539.7,286.7 537.9,291.3 Q536.1,295.9 533.8,299.2 Q531.6,302.4 528.1,299.5 Q524.7,296.5 524.1,299.3 Q523.5,302.1 521.2,306.9 Q518.9,311.7 516.9,313.1 Q514.9,314.4 512.8,313.2 Q510.7,312.0 508.7,313.2 Q506.8,314.3 504.2,313.4 Q501.7,312.6 500.2,309.5 Q498.7,306.4 498.3,297.6 Q498.0,288.7 494.7,293.3 Q491.4,297.9 488.0,295.5 Q484.7,293.1 484.7,300.7 Q484.7,308.3 478.5,307.4 Q472.2,306.6 472.3,308.7 Q472.4,310.8 472.2,323.7 Q471.9,336.6 470.9,341.5 Q469.9,346.4 466.9,346.3 Q463.8,346.3 464.3,351.0 Q464.7,355.7 462.8,360.4 Q461.0,365.1 457.6,365.1 Q454.2,365.2 452.9,374.3 Q451.7,383.5 448.5,384.8 Q445.3,386.2 442.2,385.2 Q439.1,384.2 437.4,381.8 Q435.7,379.5 435.0,385.2 Q434.2,390.9 431.0,391.8 Q427.7,392.7 424.5,395.9 Q421.3,399.0 420.3,402.6 Q419.2,406.1 417.0,409.9 Q414.8,413.8 412.8,415.3 Q410.7,416.9 408.7,415.5 Q406.7,414.2 404.5,404.3 Q402.2,394.4 401.1,389.3 Q400.0,384.3 399.4,377.6 Q398.8,370.8 396.5,371.6 Q394.2,372.4 392.3,376.8 Q390.4,381.3 390.1,391.4 Q389.8,401.6 388.7,406.6 Q387.5,411.7 385.3,413.4 Q383.1,415.2 381.2,413.6 Q379.4,412.1 378.5,410.3 Q377.5,408.5 375.6,392.6 Q373.7,376.7 372.2,380.1 Q370.7,383.5 367.5,383.7 L364.4,383.9 Z"/>
<line x1="490.5" y1="991.3" x2="578" y2="991.3" stroke="#5b9bd5" stroke-width="10.5" stroke-linecap="round"/>
<text class="lg" x="586.5" y="1004">上证指数<tspan dx="-3.5">（</tspan><tspan dx="4.5">左</tspan>轴<tspan dx="4.5">）</tspan></text>
<line x1="981.5" y1="991.3" x2="1068.5" y2="991.3" stroke="#ed7d31" stroke-width="10.5" stroke-linecap="round"/>
<text class="lg" x="1077.5" y="1004">深<tspan dx="2.5">证</tspan>成指<tspan dx="-5">（</tspan><tspan dx="4.5">右</tspan>轴<tspan dx="4.5">）</tspan></text>
</svg>
<div id="src">资料来源：<i>wind</i>，联合资信整理</div>
</body>
</html>
